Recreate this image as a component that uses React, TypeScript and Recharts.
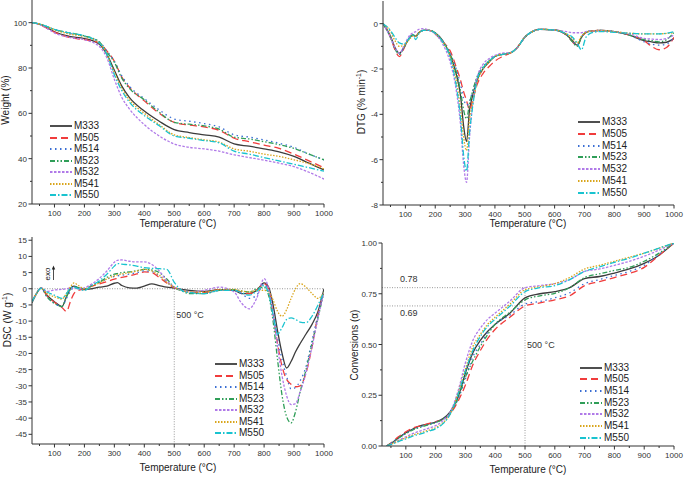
import React from "react";
import { LineChart, Line, XAxis, YAxis, ReferenceLine, ReferenceDot } from "recharts";

// --- series names & tick labels ---
const SERIES = ["M333", "M505", "M514", "M523", "M532", "M541", "M550"];
const X_TICKS = [50, 100, 150, 200, 250, 300, 350, 400, 450, 500, 550, 600, 650, 700, 750, 800, 850, 900, 950, 1000];
const TGA_TICKS = [20, 30, 40, 50, 60, 70, 80, 90, 100];
const TGA_MAJOR = [20, 40, 60, 80, 100];
const DTG_TICKS = [-8, -7, -6, -5, -4, -3, -2, -1, 0];
const DTG_MAJOR = [-8, -6, -4, -2, 0];
const DSC_TICKS = [15, 10, 5, 0, -5, -10, -15, -20, -25, -30, -35, -40, -45];
const CONV_TICKS = [0, 0.125, 0.25, 0.375, 0.5, 0.625, 0.75, 0.875, 1];
const CONV_MAJOR = [0, 0.25, 0.5, 0.75, 1];

// --- TGA: weight (%) ---
const T_TGA = [25, 50, 75, 100, 150, 200, 250, 275, 300, 325, 350, 400, 450, 500, 550, 600, 650, 700, 750, 800, 850, 900, 950, 1000];
const TGA_M333 = [100, 99.3, 97.8, 96, 94, 93, 90.5, 86, 79, 72, 67, 61, 56.5, 52.8, 51.5, 50.5, 49.5, 46.5, 45.5, 44.3, 43, 41, 38, 35];
const TGA_M505 = [100, 99.2, 97.5, 95.8, 93.5, 92.5, 91, 87.5, 83, 76, 71.5, 65.5, 60, 56, 54.8, 54, 52.5, 49, 47.5, 46, 44.5, 42, 39, 36];
const TGA_M514 = [100, 99.4, 98.3, 97, 95.3, 94, 91.5, 87.5, 83, 76.5, 72, 66.5, 61.5, 57.5, 56.5, 55.5, 54, 50.5, 49.5, 48.3, 46.8, 45, 42, 39.5];
const TGA_M523 = [100, 99.4, 98.3, 97, 95.5, 94.2, 91.5, 87, 82.5, 75.5, 71, 66, 60.5, 56, 55.2, 54.5, 53, 49.5, 48.7, 47.5, 46.2, 44.5, 42, 39.5];
const TGA_M532 = [100, 99.2, 97.5, 95.5, 93.5, 92.5, 89.5, 84.5, 75, 67, 62, 55, 50, 46.5, 45, 44.3, 43.3, 41.7, 40.5, 39.3, 38, 36.5, 34, 31];
const TGA_M541 = [100, 99.4, 98.2, 96.8, 95, 93.8, 91, 86, 78, 71, 66, 60, 55, 50.5, 49.3, 48.3, 47.3, 44.3, 43.3, 42, 41, 39.5, 37.8, 35.5];
const TGA_M550 = [100, 99.4, 98.3, 97, 95.5, 94.2, 91, 86, 77, 70, 65, 59, 54.5, 50, 49, 48, 47, 43.3, 42, 40.5, 39, 37.5, 36, 34.5];

// --- DTG (% min-1) ---
const T_DTG = [25, 50, 65, 80, 95, 110, 125, 135, 145, 160, 180, 200, 225, 250, 270, 285, 295, 305, 315, 325, 340, 360, 380, 400, 425, 450, 475, 500, 525, 550, 600, 640, 660, 675, 690, 705, 725, 750, 800, 850, 900, 925, 950, 975, 1000];
const DTG_M333 = [0, -0.55, -1.05, -1.3, -1.05, -0.7, -0.5, -0.55, -0.4, -0.3, -0.3, -0.4, -0.75, -1.4, -2.2, -3.2, -4.5, -5.2, -3.8, -3.2, -2.5, -2.0, -1.7, -1.45, -1.35, -1.3, -1.05, -0.6, -0.35, -0.25, -0.28, -0.5, -0.75, -0.95, -0.6, -0.38, -0.32, -0.3, -0.35, -0.5, -0.75, -0.8, -0.85, -0.82, -0.65];
const DTG_M505 = [0, -0.6, -1.15, -1.45, -1.1, -0.7, -0.5, -0.55, -0.4, -0.28, -0.3, -0.45, -0.8, -1.2, -1.9, -2.5, -3.0, -3.4, -3.8, -3.4, -2.7, -2.2, -1.9, -1.65, -1.45, -1.3, -1.05, -0.6, -0.35, -0.25, -0.28, -0.5, -0.8, -1.0, -0.6, -0.4, -0.32, -0.3, -0.35, -0.5, -0.75, -1.0, -1.15, -1.05, -0.6];
const DTG_M514 = [0, -0.6, -1.1, -1.35, -1.05, -0.7, -0.5, -0.55, -0.4, -0.3, -0.3, -0.42, -0.78, -1.3, -2.0, -2.7, -3.3, -3.6, -3.4, -3.0, -2.4, -1.95, -1.65, -1.45, -1.35, -1.3, -1.05, -0.6, -0.35, -0.25, -0.28, -0.5, -0.75, -0.95, -0.6, -0.38, -0.32, -0.3, -0.35, -0.5, -0.8, -0.9, -0.95, -0.9, -0.6];
const DTG_M523 = [0, -0.6, -1.1, -1.35, -1.05, -0.7, -0.5, -0.55, -0.4, -0.3, -0.3, -0.42, -0.78, -1.35, -2.1, -3.0, -3.8, -4.2, -3.5, -3.0, -2.35, -1.9, -1.65, -1.45, -1.35, -1.3, -1.05, -0.6, -0.35, -0.25, -0.28, -0.5, -0.8, -1.0, -0.6, -0.38, -0.32, -0.3, -0.35, -0.5, -0.7, -0.75, -0.8, -0.7, -0.4];
const DTG_M532 = [0, -0.6, -1.05, -1.3, -1.0, -0.6, -0.4, -0.35, -0.25, -0.22, -0.3, -0.45, -0.9, -1.7, -2.9, -4.5, -6.2, -7.0, -5.0, -3.6, -2.4, -1.8, -1.55, -1.4, -1.3, -1.28, -1.05, -0.6, -0.35, -0.25, -0.28, -0.35, -0.4, -0.4, -0.4, -0.35, -0.32, -0.3, -0.35, -0.45, -0.65, -0.68, -0.7, -0.65, -0.5];
const DTG_M541 = [0, -0.35, -0.75, -1.0, -0.95, -0.75, -0.55, -0.55, -0.4, -0.3, -0.3, -0.42, -0.8, -1.45, -2.5, -3.8, -5.0, -5.6, -4.2, -3.5, -2.6, -2.0, -1.7, -1.45, -1.35, -1.3, -1.05, -0.6, -0.35, -0.25, -0.28, -0.45, -0.65, -0.85, -0.55, -0.38, -0.32, -0.3, -0.35, -0.42, -0.45, -0.45, -0.45, -0.43, -0.4];
const DTG_M550 = [0, -0.3, -0.6, -0.85, -0.9, -0.7, -0.5, -0.7, -0.45, -0.3, -0.3, -0.42, -0.8, -1.5, -2.7, -4.2, -5.8, -6.5, -4.8, -3.7, -2.5, -1.95, -1.65, -1.45, -1.35, -1.3, -1.05, -0.6, -0.35, -0.25, -0.28, -0.45, -0.6, -0.85, -1.15, -0.6, -0.4, -0.35, -0.38, -0.42, -0.45, -0.45, -0.45, -0.42, -0.35];

// --- DSC (W g-1) ---
const T_DSC = [25, 40, 55, 75, 100, 125, 140, 155, 165, 180, 200, 225, 250, 275, 300, 310, 325, 350, 375, 400, 425, 450, 475, 500, 525, 550, 600, 650, 700, 725, 750, 775, 800, 815, 830, 845, 860, 875, 890, 905, 920, 940, 960, 980, 1000];
const DSC_M333 = [-4.3, -1.5, 0.3, -2.0, -4.0, -5.5, -2.5, 0.3, 0.8, 0.3, -0.3, 0.0, 0.5, 0.8, 1.7, 1.9, 1.0, 0.3, 0.2, 0.8, 1.5, 1.0, 0.5, 0.2, -0.2, -0.5, -0.8, -0.3, -0.5, -1.5, -1.5, -0.5, 1.8, 0.5, -5, -13, -20, -24.5, -22.5, -19.5, -17, -14, -11, -7, 0];
const DSC_M505 = [-4, -1.5, 0.3, -2.2, -4.2, -5.8, -7.0, -3.5, -1.5, -0.5, 0, 0.8, 1.5, 2.2, 3, 3.2, 3.5, 4, 4.6, 5.2, 5, 3.5, 1.8, 0.3, -0.5, -1, -1.2, -0.3, -0.5, -1.0, -1.5, -0.5, 1.5, 0, -8, -17, -24, -28, -29.5, -30.3, -30, -26, -18, -8, -1];
const DSC_M514 = [-4, -1.5, 0.2, -2.5, -4.5, -5.5, -3, -0.5, 0.5, 0.3, 0, 1, 2, 3, 3.8, 4, 4.2, 4.5, 5, 5.5, 5.3, 4, 2, 0.5, -0.5, -1, -1.5, -0.5, -0.5, -1.5, -3, -2, 1.5, -1, -7, -15, -22, -27, -31, -30.5, -28.5, -24, -16, -8, -1];
const DSC_M523 = [-4, -1.5, 0.2, -2.5, -4.5, -5.5, -2.5, 0, 0.6, 0.3, 0, 1, 2, 3.5, 4.5, 4.7, 5, 5.2, 5.6, 6, 5.8, 5, 3, 0.5, -0.7, -1.5, -1.5, -0.5, -0.3, -0.7, -1.0, 0, 0.5, -2, -10, -22, -33, -39.5, -41.5, -38, -32, -25, -17, -9, -1];
const DSC_M532 = [-4, -1.5, 0.3, -0.8, -0.4, -0.2, 0, 0.3, 0.2, 0, 0.3, 1.5, 3.2, 5.5, 8.2, 8.8, 8.9, 8.5, 8.3, 8.3, 7.5, 5.5, 2.5, 0.5, -0.5, -1, -0.5, 0.5, -1, -4.5, -6.2, -3, 3.1, 0, -8, -18, -27, -33, -35.8, -35.5, -32, -26, -18, -9, -1];
const DSC_M541 = [-4, -1.5, 0.2, -1.5, -2.5, -3.2, -1.5, 0.8, 1.8, 1.0, 0, 0.8, 1.8, 3, 4, 4.3, 4.6, 5, 5.5, 6, 5.5, 4.2, 2, 0.5, -0.5, -1, -1, -0.3, -0.2, -0.7, -1, -0.5, -0.5, -1, -3.5, -7, -8.5, -6.5, -3, 0, 1.6, 0.5, -1.5, -3, -1];
const DSC_M550 = [-4, -1.5, 0.2, -1.0, -2.0, -3.0, -1.5, 0.3, 0.5, 0, -0.5, 1, 2.5, 4.5, 7, 7.8, 7.6, 7.4, 7, 6.5, 6.3, 6.2, 6, 2, -0.5, -1.2, -1.5, -0.5, -0.5, -1.2, -2, -0.8, 1, -1.5, -8, -14, -12, -9.5, -9, -9.5, -10.3, -10.5, -8.5, -5, -1];

// --- conversion (alpha) ---
const T_CONV = [35, 50, 75, 100, 125, 150, 175, 200, 225, 250, 275, 300, 325, 350, 375, 400, 450, 500, 550, 600, 650, 700, 750, 800, 850, 900, 950, 1000];
const CONV_M333 = [0, 0.012, 0.04, 0.065, 0.085, 0.1, 0.108, 0.118, 0.135, 0.17, 0.24, 0.36, 0.46, 0.52, 0.565, 0.6, 0.655, 0.73, 0.75, 0.76, 0.78, 0.825, 0.835, 0.852, 0.872, 0.9, 0.94, 1.0];
const CONV_M505 = [0, 0.015, 0.045, 0.07, 0.09, 0.1, 0.11, 0.12, 0.13, 0.16, 0.22, 0.3, 0.4, 0.47, 0.53, 0.575, 0.635, 0.69, 0.705, 0.72, 0.74, 0.79, 0.81, 0.83, 0.85, 0.88, 0.94, 1.0];
const CONV_M514 = [0, 0.013, 0.04, 0.062, 0.082, 0.095, 0.105, 0.117, 0.133, 0.165, 0.23, 0.33, 0.44, 0.5, 0.56, 0.6, 0.645, 0.7, 0.712, 0.73, 0.755, 0.8, 0.82, 0.84, 0.86, 0.89, 0.945, 1.0];
const CONV_M523 = [0, 0.012, 0.038, 0.06, 0.08, 0.093, 0.104, 0.115, 0.133, 0.165, 0.235, 0.34, 0.42, 0.49, 0.55, 0.6, 0.66, 0.72, 0.74, 0.752, 0.78, 0.83, 0.848, 0.865, 0.88, 0.91, 0.95, 1.0];
const CONV_M532 = [0, 0.01, 0.028, 0.045, 0.062, 0.075, 0.087, 0.1, 0.125, 0.17, 0.27, 0.41, 0.52, 0.58, 0.625, 0.655, 0.715, 0.78, 0.79, 0.8, 0.82, 0.86, 0.872, 0.89, 0.91, 0.935, 0.965, 1.0];
const CONV_M541 = [0, 0.008, 0.025, 0.04, 0.055, 0.065, 0.077, 0.09, 0.115, 0.16, 0.26, 0.38, 0.49, 0.55, 0.6, 0.635, 0.7, 0.77, 0.785, 0.8, 0.83, 0.872, 0.89, 0.91, 0.93, 0.95, 0.975, 1.0];
const CONV_M550 = [0, 0.007, 0.022, 0.035, 0.05, 0.06, 0.072, 0.085, 0.11, 0.16, 0.255, 0.37, 0.47, 0.54, 0.59, 0.625, 0.69, 0.76, 0.78, 0.79, 0.82, 0.86, 0.882, 0.905, 0.925, 0.95, 0.975, 1.0];

// --- styles ---
const COLORS = ["#3c3c3c", "#f03c3c", "#3b6fd4", "#2f9e58", "#b07ae8", "#d9a51c", "#19c3cf"];
const DASHES = [undefined, "7 4", "1.5 3.5", "5 2 1.5 2 1.5 2", "2.5 1.5", "1.5 1.5", "6 2 1.5 2"];
const AXIS = "#333";
const FONT = "'Liberation Sans', Arial, sans-serif";
const GUIDE = "#999";

function rows(temps: number[], cols: number[][]) {
  return temps.map((t, i) => {
    const r: any = { t };
    SERIES.forEach((s, j) => (r[s] = cols[j][i]));
    return r;
  });
}

const tgaData = rows(T_TGA, [TGA_M333, TGA_M505, TGA_M514, TGA_M523, TGA_M532, TGA_M541, TGA_M550]);
const dtgData = rows(T_DTG, [DTG_M333, DTG_M505, DTG_M514, DTG_M523, DTG_M532, DTG_M541, DTG_M550]);
const dscData = rows(T_DSC, [DSC_M333, DSC_M505, DSC_M514, DSC_M523, DSC_M532, DSC_M541, DSC_M550]);
const convData = rows(T_CONV, [CONV_M333, CONV_M505, CONV_M514, CONV_M523, CONV_M532, CONV_M541, CONV_M550]);

const isMajor = (v: number, majors: number[]) => majors.some((m) => Math.abs(m - v) < 1e-6);

// x ticks: labels on hundreds, short marks on fifties
function XTick(props: any) {
  const { x, y, payload } = props;
  const v = payload.value;
  const major = v % 100 === 0;
  const ay = y - 5;
  return (
    <g>
      <line x1={x} x2={x} y1={ay} y2={ay + (major ? 3.5 : 2)} stroke={AXIS} />
      {major && (
        <text x={x} y={ay + 12} textAnchor="middle" fontSize={8} fill={AXIS} fontFamily={FONT}>
          {v}
        </text>
      )}
    </g>
  );
}

function makeYTick(majors: number[], fmt: (v: number) => string) {
  return (props: any) => {
    const { x, y, payload } = props;
    const v = payload.value;
    const major = isMajor(v, majors);
    const ax = x + 5;
    return (
      <g>
        <line x1={ax} x2={ax - (major ? 3.5 : 2)} y1={y} y2={y} stroke={AXIS} />
        {major && (
          <text x={ax - 5} y={y + 3} textAnchor="end" fontSize={8} fill={AXIS} fontFamily={FONT}>
            {fmt(v)}
          </text>
        )}
      </g>
    );
  };
}

function Panel(p: any) {
  return (
    <div style={{ position: "absolute", left: p.left, top: p.top }}>
      <LineChart width={p.width} height={p.height} data={p.data} margin={p.margin}>
        <XAxis
          dataKey="t"
          type="number"
          domain={p.xDomain}
          ticks={X_TICKS}
          interval={0}
          height={p.xHeight}
          tickSize={3}
          tickMargin={2}
          tickLine={false}
          tick={<XTick />}
          stroke={AXIS}
          allowDataOverflow
        />
        <YAxis
          type="number"
          domain={p.yDomain}
          ticks={p.yTicks}
          interval={0}
          width={p.yWidth}
          tickSize={3}
          tickMargin={2}
          tickLine={false}
          tick={makeYTick(p.yMajor, p.fmt)}
          stroke={AXIS}
          allowDataOverflow
        />
        {p.children}
        {SERIES.map((s, i) => (
          <Line
            key={s}
            dataKey={s}
            type="monotone"
            stroke={COLORS[i]}
            strokeWidth={1.3}
            strokeDasharray={DASHES[i]}
            dot={false}
            activeDot={false}
            isAnimationActive={false}
          />
        ))}
      </LineChart>
    </div>
  );
}

function Legend({ x, y, step }: { x: number; y: number; step: number }) {
  return (
    <div style={{ position: "absolute", left: x, top: y, fontFamily: FONT }}>
      {SERIES.map((s, i) => (
        <div
          key={s}
          style={{ position: "absolute", left: 0, top: i * step - 6, height: 12, display: "flex", alignItems: "center", whiteSpace: "nowrap" }}
        >
          <svg width={22} height={4} style={{ display: "block" }}>
            <line x1={0} y1={2} x2={22} y2={2} stroke={COLORS[i]} strokeWidth={1.8} strokeDasharray={DASHES[i]} />
          </svg>
          <span style={{ marginLeft: 2, fontSize: 10, lineHeight: "12px", color: "#222" }}>{s}</span>
        </div>
      ))}
    </div>
  );
}

function Title({ x, y, rotate, children }: any) {
  return (
    <div
      style={{
        position: "absolute",
        left: x,
        top: y,
        transform: `translate(-50%, -50%)${rotate ? " rotate(-90deg)" : ""}`,
        whiteSpace: "nowrap",
        fontFamily: FONT,
        fontSize: 10,
        lineHeight: "12px",
        color: "#222",
      }}
    >
      {children}
    </div>
  );
}

const annot = (text: string, dx = 2) => ({
  value: text,
  position: "right" as const,
  offset: dx,
  fontSize: 9,
  fill: AXIS,
  fontFamily: FONT,
});

export default function App() {
  return (
    <div style={{ position: "absolute", left: 0, top: 0, width: 685, height: 478, background: "#fff", overflow: "hidden" }}>
      {/* TGA */}
      <Panel
        left={0}
        top={0}
        width={340}
        height={232}
        margin={{ top: 0, right: 16, left: 0, bottom: 0 }}
        data={tgaData}
        xDomain={[25, 1000]}
        xHeight={28}
        yDomain={[20, 110]}
        yTicks={TGA_TICKS}
        yMajor={TGA_MAJOR}
        yWidth={32}
        fmt={(v: number) => String(v)}
      />
      {/* DTG */}
      <Panel
        left={340}
        top={0}
        width={345}
        height={232}
        margin={{ top: 1, right: 11, left: 0, bottom: 0 }}
        data={dtgData}
        xDomain={[25, 1000]}
        xHeight={27}
        yDomain={[-8, 1]}
        yTicks={DTG_TICKS}
        yMajor={DTG_MAJOR}
        yWidth={43}
        fmt={(v: number) => String(v)}
      />
      {/* DSC */}
      <Panel
        left={0}
        top={230}
        width={340}
        height={248}
        margin={{ top: 7, right: 16, left: 0, bottom: 0 }}
        data={dscData}
        xDomain={[25, 1000]}
        xHeight={34}
        yDomain={[-48, 16]}
        yTicks={DSC_TICKS}
        yMajor={DSC_TICKS}
        yWidth={32}
        fmt={(v: number) => String(v)}
      >
        <ReferenceLine y={0} stroke={GUIDE} strokeDasharray="1 1.5" />
        <ReferenceLine segment={[{ x: 500, y: 0 }, { x: 500, y: -48 }]} stroke={GUIDE} strokeDasharray="1 1.5" />
        <ReferenceDot x={500} y={-8} r={0} stroke="none" fill="none" label={annot("500 °C")} />
      </Panel>
      {/* Conversion */}
      <Panel
        left={340}
        top={230}
        width={345}
        height={248}
        margin={{ top: 13, right: 11, left: 0, bottom: 0 }}
        data={convData}
        xDomain={[20, 1000]}
        xHeight={32}
        yDomain={[0, 1]}
        yTicks={CONV_TICKS}
        yMajor={CONV_MAJOR}
        yWidth={42}
        fmt={(v: number) => v.toFixed(2)}
      >
        <ReferenceLine segment={[{ x: 20, y: 0.78 }, { x: 500, y: 0.78 }]} stroke={GUIDE} strokeDasharray="1 1.5" />
        <ReferenceLine segment={[{ x: 20, y: 0.69 }, { x: 500, y: 0.69 }]} stroke={GUIDE} strokeDasharray="1 1.5" />
        <ReferenceLine segment={[{ x: 500, y: 0 }, { x: 500, y: 0.78 }]} stroke={GUIDE} strokeDasharray="1 1.5" />
        <ReferenceDot x={80} y={0.823} r={0} stroke="none" fill="none" label={annot("0.78", 0)} />
        <ReferenceDot x={80} y={0.655} r={0} stroke="none" fill="none" label={annot("0.69", 0)} />
        <ReferenceDot x={500} y={0.5} r={0} stroke="none" fill="none" label={annot("500 °C")} />
      </Panel>

      {/* exo marker */}
      <svg style={{ position: "absolute", left: 40, top: 262 }} width={20} height={22}>
        <text x={0} y={0} transform="translate(10,12) rotate(-90)" textAnchor="middle" fontSize={8} fill="#222" fontFamily={FONT}>
          exo
        </text>
        <line x1={13.5} y1={18} x2={13.5} y2={5} stroke="#222" strokeWidth={0.8} />
        <path d="M11.8,7.5 L13.5,3.5 L15.2,7.5 Z" fill="#222" />
      </svg>

      <Legend x={50} y={126} step={11.5} />
      <Legend x={578} y={122.3} step={11.73} />
      <Legend x={215} y={364.3} step={11.5} />
      <Legend x={580} y={367.7} step={11.67} />

      <Title x={178} y={224}>Temperature (°C)</Title>
      <Title x={528} y={224}>Temperature (°C)</Title>
      <Title x={178} y={468}>Temperature (°C)</Title>
      <Title x={528} y={470}>Temperature (°C)</Title>

      <Title x={6} y={100} rotate>Weight (%)</Title>
      <Title x={362} y={102} rotate>
        DTG (% min<sup style={{ fontSize: 7, lineHeight: 0 }}>-1</sup>)
      </Title>
      <Title x={8} y={320} rotate>
        DSC (W g<sup style={{ fontSize: 7, lineHeight: 0 }}>-1</sup>)
      </Title>
      <Title x={355} y={345} rotate>Conversions (α)</Title>
    </div>
  );
}
